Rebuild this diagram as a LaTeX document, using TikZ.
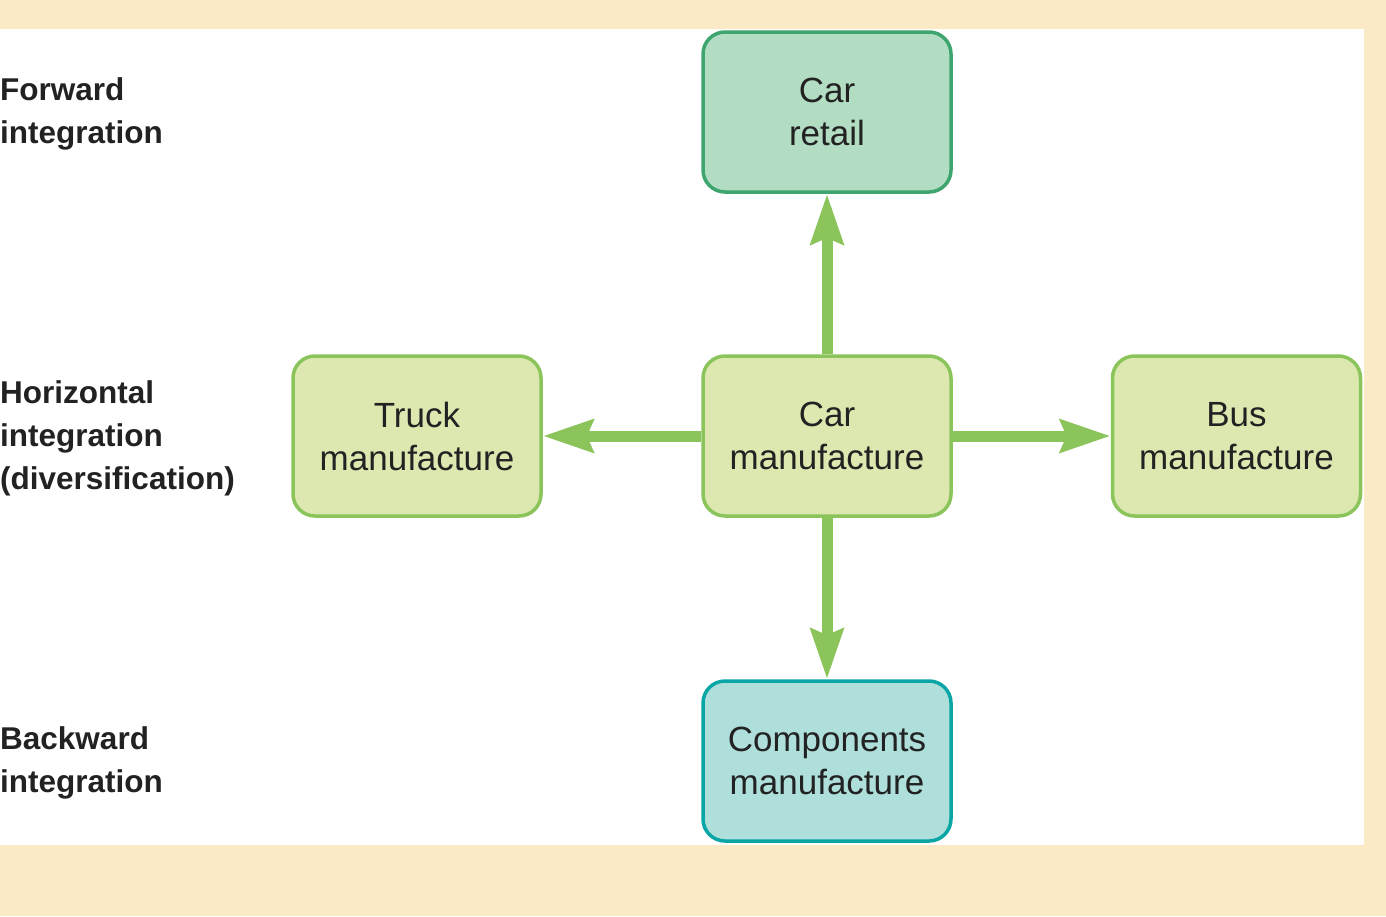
\documentclass[tikz,border=0pt]{standalone}
\usepackage{fontspec}
\setmainfont{Liberation Sans}
\usetikzlibrary{arrows.meta}
\definecolor{bgbeige}{HTML}{FBEAC6}
\definecolor{retailfill}{HTML}{B2DDC2}
\definecolor{retaildraw}{HTML}{3FA56E}
\definecolor{lgfill}{HTML}{DCE8B0}
\definecolor{lgdraw}{HTML}{8BC45A}
\definecolor{compfill}{HTML}{AEDFDB}
\definecolor{compdraw}{HTML}{0AA5A5}
\definecolor{txt}{HTML}{222222}
\begin{document}
\begin{tikzpicture}[x=1pt,y=-1pt,
  box/.style={draw, line width=3.5pt, rounded corners=22pt, minimum width=248pt, minimum height=160pt,
    align=center, inner sep=0pt, text=txt, font=\fontsize{35}{43}\selectfont},
  greenbox/.style={box, fill=lgfill, draw=lgdraw},
  sidelabel/.style={anchor=west, align=left, inner sep=0pt, text=txt, font=\bfseries\fontsize{31.5}{43}\selectfont},
  conn/.style={draw=lgdraw, line width=11pt, -{Stealth[length=50pt,width=32pt,inset=6pt]}}]
\fill[bgbeige] (0,0) rectangle (1386,916);
\fill[white] (0,29) rectangle (1364,845);
\useasboundingbox (0,0) rectangle (1386,916);

\node[box, fill=retailfill, draw=retaildraw] (retail) at (827,112) {Car\\retail};
\node[greenbox] (car) at (827,436) {Car\\manufacture};
\node[greenbox] (truck) at (417,436) {Truck\\manufacture};
\node[greenbox] (bus) at (1236.5,436) {Bus\\manufacture};
\node[box, fill=compfill, draw=compdraw] (comp) at (827,761) {Components\\manufacture};

\draw[conn] (car.north) -- (retail.south);
\draw[conn] (car.south) -- (comp.north);
\draw[conn] (car.west) -- (truck.east);
\draw[conn] (car.east) -- (bus.west);

\node[sidelabel] (fwd) at (0,114) {Forward\\integration};
\node[sidelabel] (hor) at (0,438) {Horizontal\\integration\\(diversification)};
\node[sidelabel] (bwd) at (0,763) {Backward\\integration};
\end{tikzpicture}
\end{document}
